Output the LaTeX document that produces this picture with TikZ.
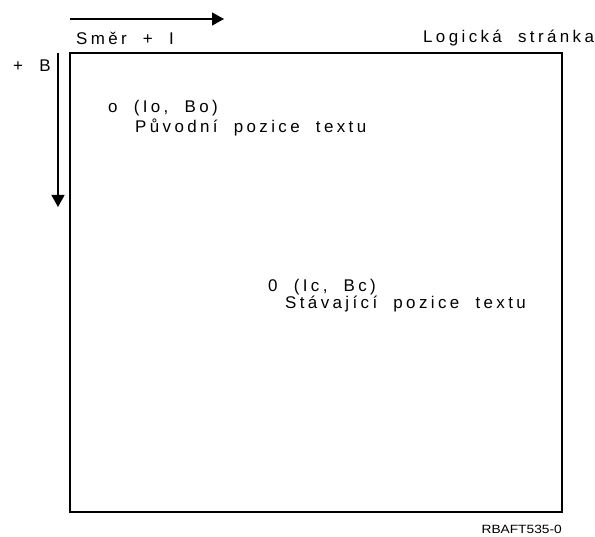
\documentclass[tikz,border=0pt]{standalone}
\usepackage{fontspec}
\setmainfont{Liberation Sans}[LetterSpace=20,WordSpace=2]
\newfontfamily\tagfont{Liberation Sans}[FakeStretch=1.15]
\usetikzlibrary{arrows.meta}

\tikzset{
  axis/.style={line width=1.1bp,-{Triangle[length=12bp,width=13bp]}},
  lbl/.style={anchor=base west,inner sep=0pt,font=\fontsize{17}{19}\selectfont},
}

\begin{document}
\begin{tikzpicture}[x=1bp,y=-1bp]
\useasboundingbox (0,0) rectangle (595,537);

% logical page
\draw[line width=1.1bp] (70,53) rectangle (562,512);

% axes
\coordinate (ia) at (70,19);
\coordinate (ib) at (224,19);
\coordinate (ba) at (58,53);
\coordinate (bb) at (58,207);
\draw[axis] (ia)--(ib);
\draw[axis] (ba)--(bb);

\node[lbl] (dir) at (76,45) {Směr + I};
\node[lbl] (plusb) at (13,72) {+ B};
\node[lbl] (page) at (423,43) {Logická stránka};

\node[lbl] (orig) at (108,113) {o (Io, Bo)};
\node[lbl] (origtxt) at (135,133) {Původní pozice textu};

\node[lbl] (curr) at (268,291) {0 (Ic, Bc)};
\node[lbl] (currtxt) at (285,308) {Stávající pozice textu};

\node[anchor=base east,inner sep=0pt,font=\tagfont\fontsize{12}{14}\selectfont] (tag) at (562,533) {RBAFT535-0};
\end{tikzpicture}
\end{document}
